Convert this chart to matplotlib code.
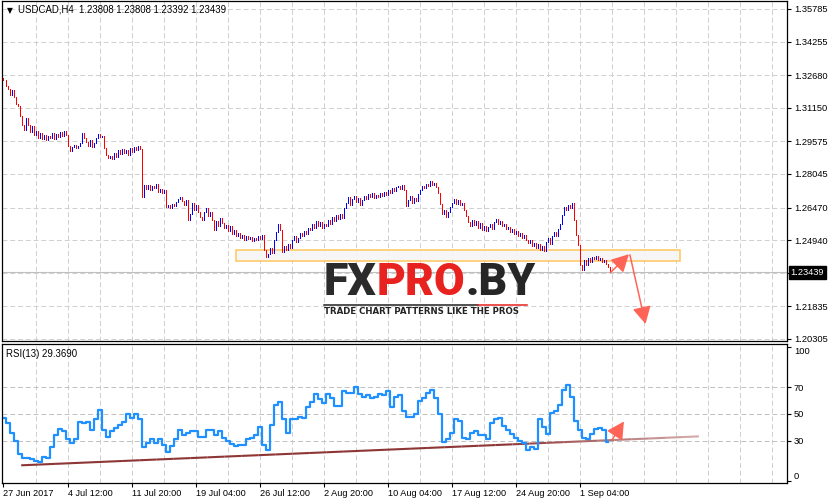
import numpy as np
import matplotlib.pyplot as plt
from matplotlib.offsetbox import TextArea, HPacker, AnnotationBbox
from matplotlib.collections import LineCollection
from matplotlib.patches import Rectangle
from matplotlib.lines import Line2D
import matplotlib.colors as mcolors

plt.rcParams['font.family'] = ['Liberation Sans', 'DejaVu Sans']

# USDCAD H4 closes, one per bar
first_open = 1.3255
closes = [
    1.3246, 1.3217, 1.3203, 1.3175, 1.3199, 1.3166, 1.3133, 1.3124, 1.3077, 1.3034,
    1.3011, 1.3067, 1.3034, 1.3002, 1.3030, 1.2988, 1.3006, 1.2973, 1.2997, 1.2969,
    1.2988, 1.2964, 1.2983, 1.2973, 1.2997, 1.2969, 1.2992, 1.2978, 1.3002, 1.2983,
    1.3006, 1.2988, 1.2936, 1.2913, 1.2931, 1.2941, 1.2927, 1.2936, 1.2950, 1.2997,
    1.2973, 1.2955, 1.2936, 1.2964, 1.2931, 1.2950, 1.2973, 1.2992, 1.2978, 1.2983,
    1.2927, 1.2894, 1.2880, 1.2889, 1.2875, 1.2903, 1.2884, 1.2917, 1.2898, 1.2922,
    1.2903, 1.2917, 1.2894, 1.2927, 1.2908, 1.2931, 1.2917, 1.2936, 1.2922, 1.2697,
    1.2753, 1.2734, 1.2753, 1.2730, 1.2748, 1.2739, 1.2758, 1.2720, 1.2734, 1.2716,
    1.2730, 1.2650, 1.2659, 1.2645, 1.2664, 1.2655, 1.2673, 1.2687, 1.2697, 1.2678,
    1.2659, 1.2683, 1.2589, 1.2617, 1.2669, 1.2636, 1.2659, 1.2626, 1.2603, 1.2589,
    1.2626, 1.2645, 1.2608, 1.2626, 1.2589, 1.2542, 1.2584, 1.2561, 1.2598, 1.2575,
    1.2551, 1.2566, 1.2537, 1.2561, 1.2523, 1.2542, 1.2514, 1.2528, 1.2504, 1.2519,
    1.2495, 1.2514, 1.2500, 1.2509, 1.2490, 1.2504, 1.2495, 1.2514, 1.2500, 1.2519,
    1.2448, 1.2416, 1.2430, 1.2458, 1.2434, 1.2495, 1.2533, 1.2570, 1.2542, 1.2439,
    1.2467, 1.2448, 1.2476, 1.2458, 1.2495, 1.2514, 1.2486, 1.2504, 1.2528, 1.2514,
    1.2537, 1.2523, 1.2551, 1.2542, 1.2570, 1.2551, 1.2584, 1.2561, 1.2580, 1.2551,
    1.2570, 1.2561, 1.2589, 1.2570, 1.2603, 1.2584, 1.2613, 1.2594, 1.2617, 1.2598,
    1.2645, 1.2669, 1.2697, 1.2659, 1.2687, 1.2701, 1.2673, 1.2692, 1.2659, 1.2683,
    1.2701, 1.2687, 1.2711, 1.2697, 1.2716, 1.2692, 1.2706, 1.2697, 1.2716, 1.2701,
    1.2720, 1.2706, 1.2730, 1.2716, 1.2739, 1.2725, 1.2744, 1.2748, 1.2734, 1.2753,
    1.2730, 1.2655, 1.2683, 1.2701, 1.2669, 1.2692, 1.2678, 1.2711, 1.2730, 1.2748,
    1.2739, 1.2758, 1.2748, 1.2772, 1.2753, 1.2762, 1.2744, 1.2716, 1.2664, 1.2617,
    1.2636, 1.2603, 1.2626, 1.2650, 1.2669, 1.2687, 1.2664, 1.2683, 1.2659, 1.2669,
    1.2636, 1.2608, 1.2580, 1.2561, 1.2589, 1.2566, 1.2584, 1.2551, 1.2575, 1.2542,
    1.2561, 1.2537, 1.2556, 1.2570, 1.2547, 1.2580, 1.2594, 1.2570, 1.2584, 1.2561,
    1.2570, 1.2547, 1.2556, 1.2533, 1.2547, 1.2523, 1.2537, 1.2514, 1.2528, 1.2504,
    1.2519, 1.2495, 1.2481, 1.2495, 1.2467, 1.2481, 1.2458, 1.2476, 1.2448, 1.2467,
    1.2444, 1.2486, 1.2504, 1.2476, 1.2514, 1.2533, 1.2514, 1.2547, 1.2570, 1.2613,
    1.2650, 1.2636, 1.2659, 1.2645, 1.2669, 1.2589, 1.2519, 1.2472, 1.2378, 1.2354,
    1.2401, 1.2378, 1.2411, 1.2392, 1.2415, 1.2406, 1.2420, 1.2401, 1.2411, 1.2392,
    1.2401, 1.2383, 1.2369, 1.23439]

# RSI(13), one value every second bar
rsi_values = [
    47, 43, 36, 30, 20, 17, 17, 16.5, 15, 14,
    18, 17, 25, 34, 39, 37, 31, 28, 31, 44,
    43, 44, 38, 46, 53, 38, 33, 37, 39.5, 42,
    44, 50, 47, 50, 46, 25, 28, 31, 28, 31,
    27, 22, 26, 31, 38, 34, 36, 37, 37, 33,
    33, 38, 38, 34.5, 37, 32, 29.5, 27.5, 26, 27,
    27, 31, 32, 34.5, 40, 27, 23, 42, 57, 59,
    46, 36, 46, 46.5, 48, 47, 55, 59, 65, 61,
    58, 65, 62, 56, 56, 67, 65.5, 66, 70, 65,
    63, 64, 62, 63, 65, 64, 67, 55, 63, 64,
    52, 48, 48, 50, 60, 62, 66, 68, 62, 50,
    29, 31, 36, 46, 45, 32, 31, 36, 37, 34,
    34, 31, 43, 46, 47, 41, 38, 35, 32, 30,
    28.5, 23, 25, 24, 46, 40, 35, 51, 52, 57,
    68, 72, 63, 45, 38, 32, 31.5, 35, 38.5, 39.5,
    38, 29.4]

date_labels = ['27 Jun 2017', '4 Jul 12:00', '11 Jul 20:00', '19 Jul 04:00', '26 Jul 12:00',
               '2 Aug 20:00', '10 Aug 04:00', '17 Aug 12:00', '24 Aug 20:00', '1 Sep 04:00']
price_levels = [1.35785, 1.34255, 1.32680, 1.31150, 1.29575, 1.28045,
                1.26470, 1.24940, 1.23390, 1.21835, 1.20305]
price_labels = ['1.35785', '1.34255', '1.32680', '1.31150', '1.29575', '1.28045',
                '1.26470', '1.24940', '', '1.21835', '1.20305']
last_price = 1.23439
header = 'USDCAD,H4  1.23808 1.23808 1.23392 1.23439'
rsi_title = 'RSI(13) 29.3690'
rsi_levels = [30, 50, 70]

# drawings on the chart
zone_low, zone_high = 1.2397, 1.2448
zone_start, zone_end = 116, 338
arrow_up = [(303.5, 1.2342), (312.7, 1.2428)]
arrow_down = [(313.2, 1.2425), (321, 1.2101)]
rsi_arrow = [(304.3, 30.8), (310.2, 44.4)]
trend_x = [8.85, 347.7]
trend_y = [11.7, 33.3]

W, H = 829, 504
grid_col = '#cfcfcf'
dash = (0, (5, 3))


def box(l, t, r, b):
    return [l / W, 1 - b / H, (r - l) / W, (b - t) / H]


fig = plt.figure(figsize=(W / 100, H / 100), dpi=100)
ax = fig.add_axes(box(2.5, 0.5, 787, 341))
ax2 = fig.add_axes(box(2.5, 343.5, 787, 483))

xlim = (-0.5, 391.75)
vgrid = np.arange(16, 392, 16)

#1) PRICE BARS

n = len(closes)
x = np.arange(n)
opens = [first_open] + closes[:-1]
lows = np.minimum(opens, closes)
highs = np.maximum(opens, closes)
cols = ['#0000ff' if c > o else '#ff0000' for o, c in zip(opens, closes)]

for v in vgrid:
    ax.axvline(v, color=grid_col, lw=0.7, ls=dash, zorder=0)
for p in price_levels:
    ax.axhline(p, color=grid_col, lw=0.7, ls=dash, zorder=0)
ax.axhline(last_price, color='#c0c0c0', lw=0.8, zorder=0.5)

ax.add_patch(Rectangle((zone_start, zone_low), zone_end - zone_start, zone_high - zone_low,
                       facecolor='#f6f6f6', edgecolor='#ffc55a', lw=1.2, alpha=0.9, zorder=1))
ax.vlines(x, lows, highs, colors=cols, lw=0.72, antialiased=False, zorder=2)

for a in (arrow_up, arrow_down):
    ax.annotate('', xy=a[1], xytext=a[0],
                arrowprops=dict(arrowstyle='-|>,head_length=0.75,head_width=0.4',
                                color='#ff6457', lw=1.1, mutation_scale=14, shrinkA=0, shrinkB=0),
                zorder=3)

ax.set_xlim(xlim)
ax.set_ylim(1.2021, 1.3618)
ax.yaxis.tick_right()
ax.set_yticks(price_levels)
ax.set_yticklabels(price_labels)
ax.tick_params(axis='y', direction='out', length=3, width=0.8, pad=2, labelsize=6.7)
ax.tick_params(axis='x', bottom=False, labelbottom=False)
ax.annotate('1.23439', xy=(1, last_price), xycoords=('axes fraction', 'data'),
            xytext=(2.5, 0), textcoords='offset points', ha='left', va='center',
            color='white', fontsize=6.7,
            bbox=dict(boxstyle='square,pad=0.2', fc='black', ec='black'))

#2) RSI

for v in vgrid:
    ax2.axvline(v, color=grid_col, lw=0.7, ls=dash, zorder=0)
for lv in rsi_levels:
    ax2.axhline(lv, color='#c0c0c0', lw=0.7, ls=dash, zorder=0)

# trend line, dark on the left and fading to the right
t = np.linspace(0, 1, 41)
tx = trend_x[0] + t * (trend_x[1] - trend_x[0])
ty = trend_y[0] + t * (trend_y[1] - trend_y[0])
segs = [[(tx[i], ty[i]), (tx[i + 1], ty[i + 1])] for i in range(len(t) - 1)]
dark = np.array(mcolors.to_rgb('#8e3535'))
light = np.array(mcolors.to_rgb('#d8b4b4'))
seg_cols = [dark + (light - dark) * max(0, (f - 0.7) / 0.3) for f in t[:-1]]
ax2.add_collection(LineCollection(segs, colors=seg_cols, lw=1.5, zorder=1))

rsi_x = np.arange(0, 2 * len(rsi_values), 2)
ax2.plot(rsi_x, rsi_values, color='#1e90ff', lw=1.6, drawstyle='steps-mid', zorder=2)
ax2.annotate('', xy=rsi_arrow[1], xytext=rsi_arrow[0],
             arrowprops=dict(arrowstyle='-|>,head_length=0.75,head_width=0.4',
                             color='#ff6457', lw=1.1, mutation_scale=14, shrinkA=0, shrinkB=0),
             zorder=3)

ax2.set_xlim(xlim)
ax2.set_ylim(-1.5, 102.6)
ax2.yaxis.tick_right()
ax2.set_yticks([0, 30, 50, 70, 100])
ax2.set_yticklabels(['0', '30', '50', '70', '100'])
ax2.tick_params(axis='y', direction='out', length=3, width=0.8, pad=2, labelsize=6.7)
for lab in ax2.get_yticklabels():
    if lab.get_text() == '100':
        lab.set_va('top')
    elif lab.get_text() == '0':
        lab.set_va('bottom')
ax2.set_xticks(np.arange(0, 32 * len(date_labels), 32))
ax2.set_xticklabels(date_labels, ha='left')
ax2.tick_params(axis='x', direction='out', length=3, width=0.8, pad=1.5, labelsize=6.6)

for a in (ax, ax2):
    for s in a.spines.values():
        s.set_linewidth(0.9)
        s.set_color('black')

#3) TEXTS AND LOGO

fig.text(7 / W, 1 - 10.5 / H, '▼', fontsize=5.5, va='center', ha='left', family='DejaVu Sans')
fig.text(18 / W, 1 - 10 / H, header, fontsize=6.9, va='center', ha='left')
fig.text(6 / W, 1 - 354 / H, rsi_title, fontsize=6.9, va='center', ha='left')

logo_font = dict(fontsize=32, fontweight='black', family=['Roboto', 'DejaVu Sans'])
parts = [TextArea('FX', textprops=dict(color='#2b2b2b', **logo_font)),
         TextArea('PRO', textprops=dict(color='#e8221f', **logo_font)),
         TextArea('.BY', textprops=dict(color='#262626', **logo_font))]
logo = HPacker(children=parts, align='baseline', pad=0, sep=0)
ab = AnnotationBbox(logo, (429.5, H - 283), xycoords='figure pixels', frameon=False,
                    box_alignment=(0.5, 0.5), pad=0, annotation_clip=False)
ax.add_artist(ab)
fig.add_artist(Line2D([324 / W, 478 / W], [1 - 305 / H] * 2, color='#222222', lw=1.1))
fig.add_artist(Line2D([478 / W, 527 / W], [1 - 305 / H] * 2, color='#e8221f', lw=1.1))
fig.text(324 / W, 1 - 312 / H, 'TRADE CHART PATTERNS LIKE THE PROS', fontsize=6.2,
         fontweight='bold', color='#222222', va='center', ha='left', family='DejaVu Sans')

plt.savefig('out.png', dpi=100)
